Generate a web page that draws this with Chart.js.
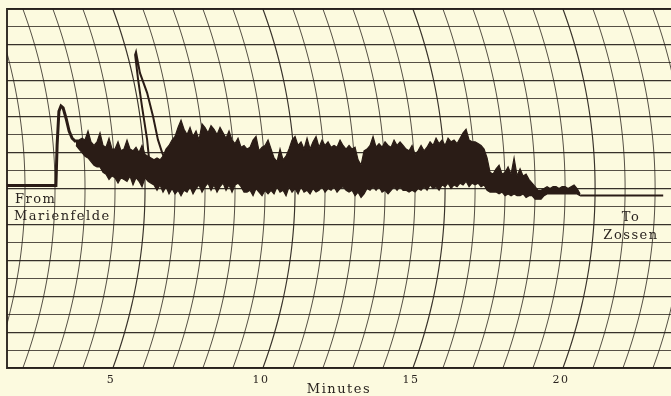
<!DOCTYPE html>
<html>
<head>
<meta charset="utf-8">
<script src="https://cdn.jsdelivr.net/npm/chart.js@4"></script>
<style>
  html, body { margin: 0; padding: 0; background: #fcfadf; }
</style>
</head>
<body>
<canvas id="myChart" width="671" height="396"></canvas>
<script>
// pen trace: minutes vs. deflection in grid divisions above the zero line
var bandStart = 2.7;   // noisy part, one reading every tenth of a minute
var bandStep = 0.1;
var bandTop = [
  2.7,2.7,2.8,2.7,3.2,2.6,2.4,2.6,3.1,2.4,
  2.3,2.8,2.2,2.2,2.6,2.1,2.2,2.7,2.2,2.1,
  2.3,2.0,2.4,1.9,1.8,1.7,1.6,1.7,1.6,1.8,
  2.2,2.4,2.7,2.9,3.4,3.8,3.3,3.0,3.4,2.9,
  3.2,2.7,3.6,3.4,3.1,3.5,3.3,3.0,3.4,3.1,
  2.8,3.2,2.7,2.5,2.8,2.3,2.4,2.2,2.3,2.7,
  2.9,2.1,2.3,2.4,2.7,2.2,1.7,1.5,2.2,1.6,
  1.8,2.2,2.7,2.9,2.4,2.6,2.2,2.8,2.2,2.6,
  2.9,2.3,2.7,2.4,2.6,2.3,2.4,2.3,2.7,2.4,
  2.2,2.4,2.2,2.3,1.6,1.3,2.1,2.2,2.4,2.9,
  2.3,2.5,2.3,2.6,2.4,2.3,2.7,2.4,2.6,2.4,
  2.2,2.1,2.4,1.9,2.1,2.4,2.1,2.3,2.6,2.4,
  2.8,2.5,2.7,2.4,2.8,2.6,2.7,2.5,2.8,3.1,
  3.3,2.7,2.6,2.6,2.5,2.4,2.2,1.7,0.9,0.8,
  1.1,1.3,0.8,0.9,1.2,0.8,1.7,0.7,1.1,0.7,
  0.8,0.5,0.3,0.1,-0.1,-0.1,0,0.1,0,0.1,
  0.1,0,0.1,0.1,0,0.1,0.2,0,-0.3
];
var bandBottom = [
  2.4,2.2,2.0,1.8,1.7,1.5,1.3,1.2,1.2,0.9,
  0.8,0.5,0.7,0.6,0.3,0.6,0.5,0.4,0.7,0.2,
  0.6,0.4,0.1,0.6,0.4,0.3,0.2,-0.1,0.2,-0.2,
  0.1,-0.3,0,-0.3,-0.1,-0.4,-0.1,-0.2,0.1,-0.3,
  0,0.2,-0.2,0.1,0.3,-0.1,0.2,-0.2,0.1,0.3,
  -0.1,0.2,-0.2,0.2,0.3,0.1,-0.2,-0.2,-0.1,-0.4,
  0,-0.2,-0.4,-0.1,-0.3,-0.1,-0.3,0.1,-0.2,-0.1,
  -0.4,0.1,-0.2,0,-0.3,0.1,-0.2,-0.1,-0.3,0,
  -0.2,-0.1,0.1,-0.2,0,-0.1,0.1,-0.2,0,0.1,
  -0.1,-0.2,-0.1,-0.4,-0.2,-0.5,-0.3,0,-0.1,0.1,
  -0.1,0.1,-0.2,-0.1,-0.3,-0.1,0.1,-0.1,0.1,-0.1,
  -0.1,-0.2,-0.1,-0.2,0,-0.1,0.1,-0.1,0.2,0,
  0.1,-0.1,0.2,0.1,0.3,0,0.2,0.1,0.3,0.2,
  0.4,0.1,0.3,0.2,0.3,0.1,0.2,-0.1,-0.2,-0.2,
  -0.2,-0.3,-0.2,-0.4,-0.3,-0.4,-0.3,-0.4,-0.4,-0.3,
  -0.5,-0.4,-0.4,-0.6,-0.6,-0.6,-0.4,-0.3,-0.3,-0.3,
  -0.3,-0.3,-0.3,-0.3,-0.3,-0.3,-0.3,-0.3,-0.4
];

// start from Marienfelde and the first peak
var leadMinutes = [0.4, 2.03, 2.07, 2.13, 2.2, 2.27, 2.37, 2.47, 2.57, 2.7];
var leadValues  = [0.17, 0.17, 2.4, 4.3, 4.6, 4.5, 3.9, 3.2, 2.8, 2.6];

// the tall surge near minute 5
var surgeMinutes = [5.17, 5.07, 4.9, 4.77, 4.67, 4.7, 4.83, 5.07, 5.27, 5.43, 5.57, 5.67];
var surgeValues  = [1.06, 2.72, 4.56, 6.06, 7.44, 7.6, 6.44, 5.33, 4.0, 2.72, 2.0, 1.61];

// quiet run into Zossen
var tailMinutes = [19.5, 22.27];
var tailValues  = [-0.39, -0.39];

var tickMinutes = [5, 10, 15, 20];

var ink = '#2a1c16';
var gridInk = 'rgba(38, 32, 26, 0.92)';
var paper = '#fcfadf';
var serif = '"DejaVu Serif", "Liberation Serif", serif';

function pts(xs, ys) {
  return xs.map(function (x, i) { return { x: x, y: ys[i] }; });
}
function bandPts(ys) {
  return ys.map(function (y, i) {
    return { x: Math.round((bandStart + i * bandStep) * 100) / 100, y: y };
  });
}

var paperPlugin = {
  id: 'paper',
  beforeDraw: function (chart) {
    var ctx = chart.ctx;
    ctx.save();
    ctx.fillStyle = paper;
    ctx.fillRect(0, 0, chart.width, chart.height);
    ctx.restore();
    ctx.letterSpacing = '1.5px';
  }
};

// curved time lines of the recorder (pen swings on an arm)
var arcPlugin = {
  id: 'arcs',
  beforeDatasetsDraw: function (chart) {
    var ctx = chart.ctx, a = chart.chartArea;
    var xs = chart.scales.x, ys = chart.scales.y;
    var yc = ys.getPixelForValue(0);
    var R = 517;
    ctx.save();
    ctx.beginPath();
    ctx.rect(a.left, a.top - 2, a.right - a.left, a.bottom - a.top + 4);
    ctx.clip();
    ctx.strokeStyle = gridInk;
    for (var t = 0; t <= 24; t++) {
      var xm = xs.getPixelForValue(t);
      ctx.lineWidth = t % 5 === 0 ? 1.15 : 0.85;
      ctx.beginPath();
      for (var py = a.top; py <= a.bottom + 0.5; py += 2) {
        var d = py - yc;
        var px = xm - (R - Math.sqrt(R * R - d * d));
        if (py === a.top) ctx.moveTo(px, py); else ctx.lineTo(px, py);
      }
      ctx.stroke();
    }
    ctx.restore();

    // frame: top, left, bottom
    ctx.save();
    ctx.strokeStyle = gridInk;
    ctx.lineWidth = 2;
    ctx.beginPath();
    ctx.moveTo(a.right, a.top);
    ctx.lineTo(a.left, a.top);
    ctx.lineTo(a.left, a.bottom);
    ctx.lineTo(a.right, a.bottom);
    ctx.stroke();
    ctx.restore();
  }
};

var notePlugin = {
  id: 'notes',
  afterDraw: function (chart) {
    var ctx = chart.ctx, a = chart.chartArea, ys = chart.scales.y;
    ctx.save();
    ctx.fillStyle = '#2a2420';
    ctx.font = '13px ' + serif;
    ctx.textBaseline = 'middle';
    ctx.textAlign = 'left';
    ctx.fillText('From', a.left + 8, ys.getPixelForValue(-0.6));
    ctx.fillText('Marienfelde', a.left + 7, ys.getPixelForValue(-1.55));
    ctx.textAlign = 'center';
    ctx.fillText('To', a.right - 40, ys.getPixelForValue(-1.6));
    ctx.fillText('Zossen', a.right - 40, ys.getPixelForValue(-2.65));
    ctx.restore();
  }
};

function makeChart() {
  var ctx = document.getElementById('myChart').getContext('2d');
  return new Chart(ctx, {
    type: 'line',
    data: {
      datasets: [{
        data: bandPts(bandTop),
        borderColor: ink,
        backgroundColor: ink,
        borderWidth: 1.2,
        fill: '+1'
      }, {
        data: bandPts(bandBottom),
        borderColor: ink,
        borderWidth: 1.2,
        fill: false
      }, {
        data: pts(leadMinutes, leadValues),
        borderColor: ink,
        borderWidth: 3,
        fill: false
      }, {
        data: pts(surgeMinutes, surgeValues),
        borderColor: ink,
        borderWidth: 2,
        fill: false
      }, {
        data: pts(tailMinutes, tailValues),
        borderColor: ink,
        borderWidth: 2,
        fill: false
      }]
    },
    options: {
      responsive: false,
      animation: false,
      elements: { point: { radius: 0 }, line: { tension: 0 } },
      layout: { padding: { left: 7, top: 9, right: 0, bottom: 0 } },
      plugins: { legend: { display: false }, tooltip: { enabled: false } },
      scales: {
        x: {
          type: 'linear',
          min: 0.4,
          max: 22.53,
          grid: { display: false, drawTicks: false },
          border: { display: false },
          afterBuildTicks: function (s) {
            s.ticks = tickMinutes.map(function (v) { return { value: v }; });
          },
          afterFit: function (s) { s.height = 28; },
          ticks: {
            autoSkip: false,
            maxRotation: 0,
            padding: 6,
            labelOffset: -34,
            color: '#2a2420',
            font: { family: serif, size: 11 }
          },
          title: {
            display: true,
            text: 'Minutes',
            color: '#2a2420',
            font: { family: serif, size: 13, lineHeight: 1 },
            padding: { top: 0, bottom: 0 }
          }
        },
        y: {
          type: 'linear',
          min: -10,
          max: 10,
          afterBuildTicks: function (s) {
            var list = [];
            for (var v = -10; v <= 10; v++) list.push({ value: v });
            s.ticks = list;
          },
          afterFit: function (s) { s.width = 0; },
          ticks: { display: false },
          border: { display: false },
          grid: {
            drawTicks: false,
            color: gridInk,
            lineWidth: function (c) { return c.tick && c.tick.value % 2 === 0 ? 1.2 : 0.85; }
          }
        }
      }
    },
    plugins: [paperPlugin, arcPlugin, notePlugin]
  });
}

makeChart();
</script>
</body>
</html>
